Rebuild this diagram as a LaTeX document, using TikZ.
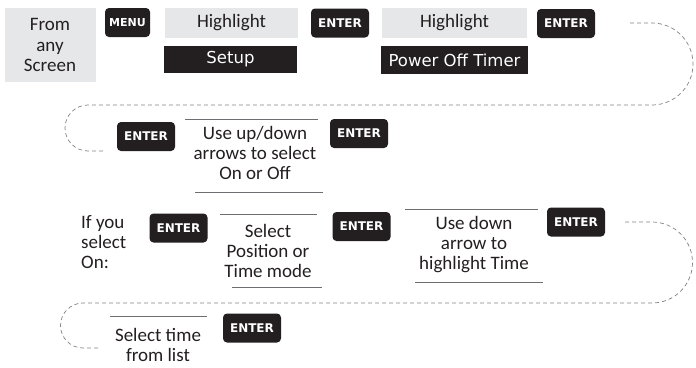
\documentclass[tikz,border=0pt]{standalone}
\usepackage{fontspec}
\setmainfont{Carlito}
\newfontfamily\lcdfont{DejaVu Sans}
\newfontfamily\keyfont{DejaVu Sans}
\usetikzlibrary{positioning,calc}
\definecolor{panelgray}{HTML}{E6E7E8}
\definecolor{keyblack}{HTML}{231F20}
\definecolor{rulegray}{HTML}{6D6E71}
\definecolor{dashgray}{HTML}{808285}
\tikzset{
  keybtn/.style={fill=keyblack, rounded corners=4pt, text=white, inner sep=0pt,
    font=\keyfont\bfseries\fontsize{12}{12}\selectfont, minimum width=58pt, minimum height=29pt},
  screenbox/.style={fill=panelgray, inner sep=0pt, align=center, text=keyblack,
    font=\fontsize{19}{20.5}\selectfont},
  lcd/.style={fill=keyblack, text=white, inner sep=0pt,
    font=\lcdfont\fontsize{16.5}{16.5}\selectfont},
  instr/.style={align=center, inner sep=0pt, text=keyblack, font=\fontsize{19}{20}\selectfont},
  rule/.style={draw=rulegray, line width=0.8pt},
  loopline/.style={draw=dashgray, line width=0.7pt, dash pattern=on 4pt off 3pt}
}

\begin{document}
\begin{tikzpicture}[x=1pt,y=1pt]
  \useasboundingbox (0,0) rectangle (696,-367);
  % first row
  \node[screenbox, minimum width=91pt, minimum height=74pt] (from) at (50,-45) {From\\any\\Screen};
  \node[keybtn, minimum width=45pt, font=\keyfont\bfseries\fontsize{11}{11}\selectfont] (menu) at (127.5,-22.5) {MENU};
  \node[screenbox, minimum width=133pt, minimum height=30pt] (hlone) at (231.5,-23) {Highlight};
  \node[lcd, minimum width=133pt, minimum height=27pt] (setup) at (230.5,-59.5) {Setup};
  \node[keybtn] (entone) at (340,-23) {ENTER};
  \node[screenbox, minimum width=145pt, minimum height=30pt] (hltwo) at (454.5,-23) {Highlight};
  \node[lcd, minimum width=147pt, minimum height=28pt] (timer) at (454.5,-60) {Power Off Timer};
  \node[keybtn] (enttwo) at (566,-23.5) {ENTER};
  % second row
  \node[keybtn] (entthree) at (146,-136.5) {ENTER};
  \node[instr] (onoff) at (255,-153) {Use up/down\\arrows to select\\On or Off};
  \draw[rule] (185,-119) -- (318,-119);
  \draw[rule] (195,-192) -- (323,-192);
  \node[keybtn] (entfour) at (359,-133.5) {ENTER};
  % third row
  \node[instr, align=left, anchor=west] (ifon) at (81,-242) {If you\\select\\On:};
  \node[keybtn] (entfive) at (178.5,-228) {ENTER};
  \node[instr] (mode) at (268,-251) {Select\\Position or\\Time mode};
  \draw[rule] (220,-214) -- (317,-214);
  \draw[rule] (232,-287) -- (322,-287);
  \node[keybtn] (entsix) at (361.5,-226.5) {ENTER};
  \node[instr] (downtime) at (474,-245) {Use down\\arrow to\\highlight Time};
  \draw[rule] (405,-209) -- (538,-209);
  \draw[rule] (415,-282) -- (543,-282);
  \node[keybtn] (entseven) at (576,-222) {ENTER};
  % last row
  \node[instr] (fromlist) at (158,-345) {Select time\\from list};
  \draw[rule] (110,-316) -- (207,-316);
  \node[keybtn] (enteight) at (252,-328) {ENTER};
  % dashed run-on loops
  \coordinate (loopAin) at (630,-23);
  \coordinate (loopAout) at (105,-151);
  \coordinate (loopBin) at (625,-222);
  \coordinate (loopBout) at (98,-348);
  \draw[loopline] (loopAin) -- (652,-23) arc[start angle=90, end angle=-90, radius=41]
    -- (88,-105) arc[start angle=90, end angle=270, radius=23] -- (loopAout);
  \draw[loopline] (loopBin) -- (652,-222) arc[start angle=90, end angle=-90, radius=40.5]
    -- (83,-303) arc[start angle=90, end angle=270, radius=22.5] -- (loopBout);
\end{tikzpicture}
\end{document}
